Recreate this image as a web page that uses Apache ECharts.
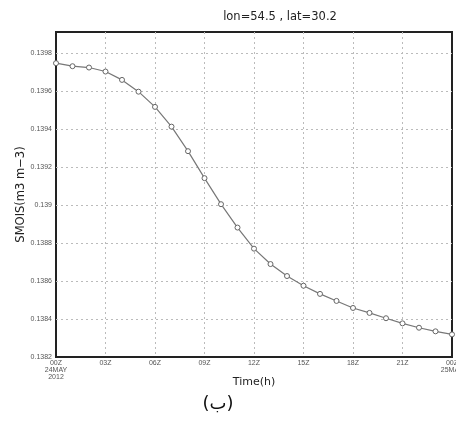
<!DOCTYPE html>
<html><head><meta charset="utf-8">
<script src="https://cdn.jsdelivr.net/npm/echarts@6/dist/echarts.min.js"></script>
<style>html,body{margin:0;padding:0;background:#fff}#c{width:456px;height:421px}</style>
</head><body><div id="c"></div>
<script>
const hours = [0,1,2,3,4,5,6,7,8,9,10,11,12,13,14,15,16,17,18,19,20,21,22,23,24];
const smois = [0.139746,0.13973,0.139723,0.139702,0.139658,0.139596,0.139516,0.139412,0.139283,0.139141,0.139004,0.138881,0.13877,0.138689,0.138626,0.138575,0.138532,0.138495,0.138458,0.138432,0.138404,0.138377,0.138354,0.138335,0.138319];
const xTickLabels = {0:'00Z\n24MAY\n2012',3:'03Z',6:'06Z',9:'09Z',12:'12Z',15:'15Z',18:'18Z',21:'21Z',24:'00Z\n25MAY'};
const yTicks = [0.1382,0.1384,0.1386,0.1388,0.139,0.1392,0.1394,0.1396,0.1398];
const titleText = 'lon=54.5 , lat=30.2';
const yName = 'SMOIS(m3 m\u22123)';
const xName = 'Time(h)';
const caption = '(\u0628)';

const chart = echarts.init(document.getElementById('c'), null, {renderer:'canvas'});
chart.setOption({
  animation:false,
  backgroundColor:'#fff',
  title:[
    {text:titleText,left:275,textAlign:'center',top:6,textStyle:{fontFamily:'DejaVu Sans',fontSize:11.5,fontWeight:'normal',color:'#222'}},
    {text:caption,left:213,textAlign:'center',top:390,textStyle:{fontFamily:'DejaVu Sans',fontSize:18,fontWeight:'normal',color:'#111'}}
  ],
  grid:{left:56,right:4,top:32,bottom:64,show:true,borderColor:'#222',borderWidth:2,backgroundColor:'#fff',outerBoundsMode:'none',containLabel:false},
  xAxis:{type:'value',min:0,max:24,interval:3,
    name:xName,nameLocation:'middle',nameGap:20,nameMoveOverlap:false,
    nameTextStyle:{fontFamily:'DejaVu Sans',fontSize:11,color:'#222'},
    axisLine:{show:false},axisTick:{show:false},
    axisLabel:{fontSize:7,color:'#555',lineHeight:7,margin:3,hideOverlap:false,
      formatter:v=>xTickLabels[v]!==undefined?xTickLabels[v]:''},
    splitLine:{show:true,showMinLine:false,showMaxLine:false,lineStyle:{type:[2,3],color:'#bbb',width:1}}},
  yAxis:{type:'value',min:0.1382,max:0.13991,interval:0.0002,
    name:yName,nameLocation:'middle',nameGap:29,nameRotate:90,nameMoveOverlap:false,
    nameTextStyle:{fontFamily:'DejaVu Sans',fontSize:11.5,color:'#222'},
    axisLine:{show:false},axisTick:{show:false},
    axisLabel:{fontSize:7,color:'#555',margin:4,showMaxLabel:false,
      formatter:v=>{const s=yTicks.find(t=>Math.abs(t-v)<1e-9);return s!==undefined?String(s):'';}},
    splitLine:{show:true,showMinLine:false,showMaxLine:false,lineStyle:{type:[2,3],color:'#bbb',width:1}}},
  series:[{type:'line',data:hours.map((h,i)=>[h,smois[i]]),
    smooth:false,symbol:'circle',symbolSize:5,showAllSymbol:true,
    lineStyle:{color:'#777',width:1.2},
    itemStyle:{color:'#fff',borderColor:'#666',borderWidth:1}}]
});
</script></body></html>
